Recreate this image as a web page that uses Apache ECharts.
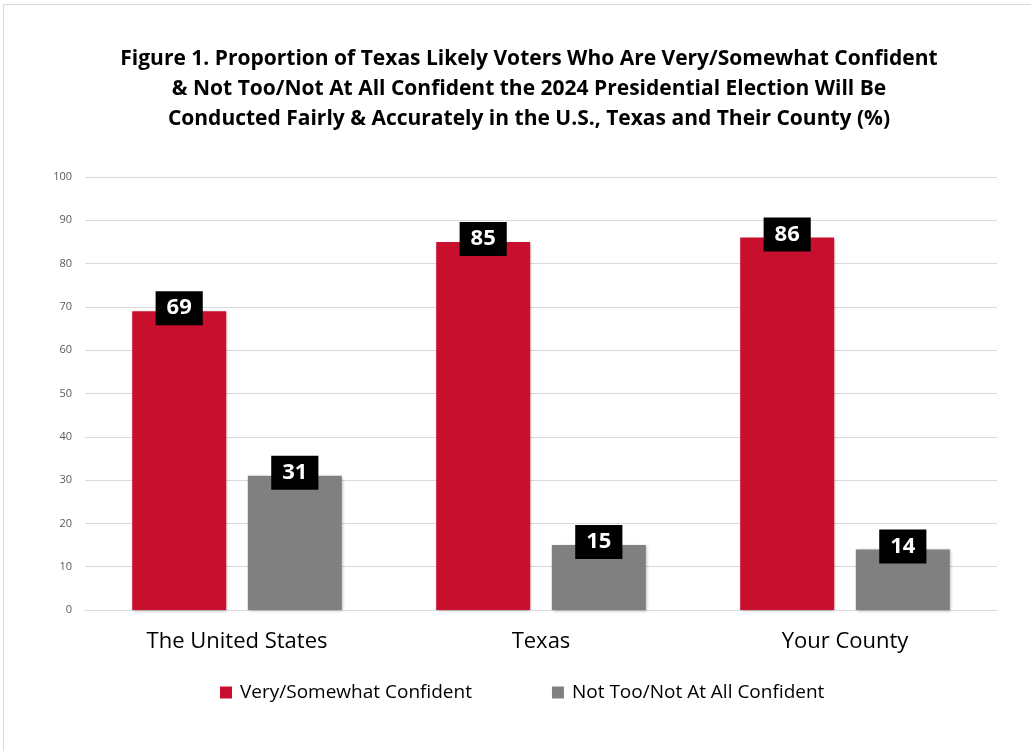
<!DOCTYPE html>
<html>
<head>
<meta charset="utf-8">
<script src="https://cdn.jsdelivr.net/npm/echarts@6/dist/echarts.min.js"></script>
<style>
  html, body { margin: 0; padding: 0; background: #fff; }
  #chart { width: 1031px; height: 751px; }
</style>
</head>
<body>
<div id="chart"></div>
<script>
// Chart data
const categories = ['The United States', 'Texas', 'Your County'];
const confident = [69, 85, 86];
const notConfident = [31, 15, 14];
const seriesNames = ['Very/Somewhat Confident', 'Not Too/Not At All Confident'];
const yTicks = { min: 0, max: 100, interval: 10 };
const titleText = 'Figure 1. Proportion of Texas Likely Voters Who Are Very/Somewhat Confident\n& Not Too/Not At All Confident the 2024 Presidential Election Will Be\nConducted Fairly & Accurately in the U.S., Texas and Their County (%)';

const FONT = '"Open Sans", "Noto Sans", sans-serif';

const chart = echarts.init(document.getElementById('chart'));

// Black value tags sitting across the top edge of each bar
const valueLabel = {
  show: true,
  position: 'top',
  distance: -14,
  backgroundColor: '#000',
  color: '#fff',
  fontFamily: FONT,
  fontWeight: 'bold',
  fontSize: 22,
  lineHeight: 24,
  padding: [5, 11, 5, 11]
};

chart.setOption({
  animation: false,
  backgroundColor: '#fff',
  graphic: [
    {
      // outer frame
      type: 'rect',
      shape: { x: 3.5, y: 4.5, width: 1040, height: 760 },
      style: { fill: 'none', stroke: '#d9d9d9', lineWidth: 1 },
      silent: true
    },
    {
      // chart heading, centred a little right of the page middle
      type: 'text',
      x: 529,
      y: 44,
      silent: true,
      style: {
        text: titleText,
        align: 'center',
        verticalAlign: 'top',
        fontFamily: FONT,
        fontWeight: 'bold',
        fontSize: 21,
        lineHeight: 30,
        fill: '#000'
      }
    }
  ],
  legend: {
    data: seriesNames,
    bottom: 44,
    left: 215,
    itemWidth: 12,
    itemHeight: 12,
    itemGap: 80,
    icon: 'rect',
    textStyle: { fontFamily: FONT, fontSize: 19, color: '#000', padding: [0, 0, 0, 3] }
  },
  grid: { left: 85, right: 34, top: 177, bottom: 141, containLabel: false },
  xAxis: {
    type: 'category',
    data: categories,
    axisTick: { show: false },
    axisLine: { lineStyle: { color: '#d9d9d9' } },
    axisLabel: { fontFamily: FONT, fontSize: 22, color: '#000', margin: 21 }
  },
  yAxis: {
    type: 'value',
    min: yTicks.min,
    max: yTicks.max,
    interval: yTicks.interval,
    axisLine: { show: false },
    axisTick: { show: false },
    axisLabel: { fontFamily: FONT, fontSize: 11, color: '#595959', margin: 13 },
    splitLine: { lineStyle: { color: '#d9d9d9' } }
  },
  series: [
    {
      name: seriesNames[0],
      type: 'bar',
      data: confident,
      barWidth: 94,
      barGap: '23%',
      itemStyle: { color: '#C8102E', shadowColor: 'rgba(0,0,0,0.3)', shadowBlur: 3, shadowOffsetX: 1, shadowOffsetY: 1 },
      label: valueLabel
    },
    {
      name: seriesNames[1],
      type: 'bar',
      data: notConfident,
      barWidth: 94,
      itemStyle: { color: '#808080', shadowColor: 'rgba(0,0,0,0.3)', shadowBlur: 3, shadowOffsetX: 1, shadowOffsetY: 1 },
      label: valueLabel
    }
  ]
});
</script>
</body>
</html>
